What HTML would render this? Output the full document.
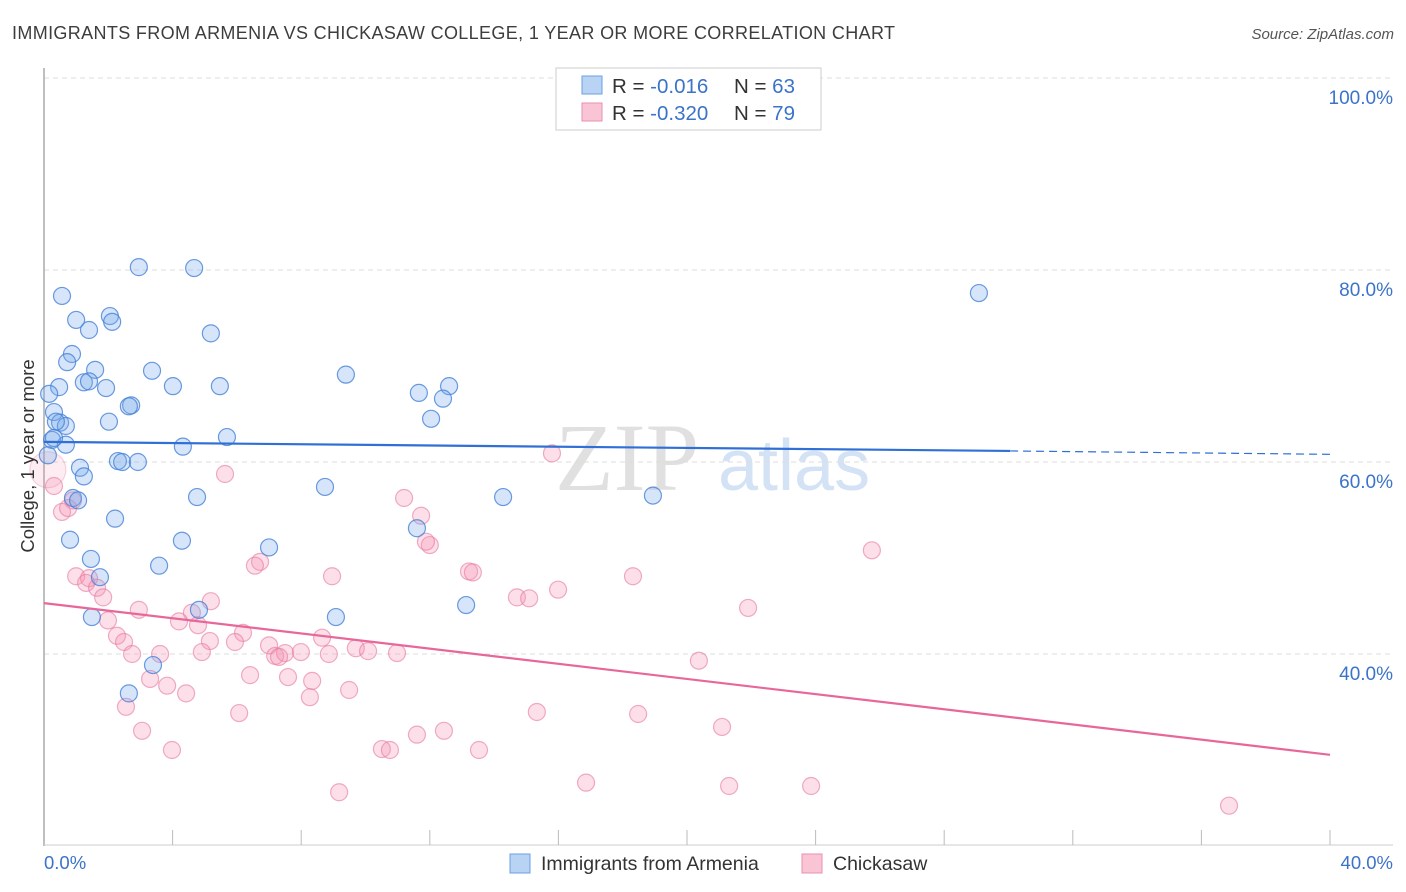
<!DOCTYPE html>
<html><head><meta charset="utf-8"><style>
body{margin:0;background:#fff;font-family:"Liberation Sans",sans-serif;}
svg{display:block}
</style></head><body>
<svg id="chart" width="1406" height="892">
<text x="12" y="39" font-size="18" fill="#3d3d3d" textLength="883">IMMIGRANTS FROM ARMENIA VS CHICKASAW COLLEGE, 1 YEAR OR MORE CORRELATION CHART</text>
<text x="1394" y="39" font-size="15" fill="#555" font-style="italic" text-anchor="end">Source: ZipAtlas.com</text>
<g>
<text x="555" y="490" font-size="96" font-family="Liberation Serif,serif" fill="#e0e0e0">ZIP</text>
<text x="718" y="490" font-size="72" fill="#d3e2f4">atlas</text>
</g>
<g id="grid"></g>
<line x1="44" y1="68" x2="44" y2="846" stroke="#aaa" stroke-width="1.5"/>
<line x1="44" y1="845" x2="1393" y2="845" stroke="#ccc"/>
<g id="ticks"></g>
<g id="pts"></g>
<g id="trend"></g>
<text x="34" y="456" font-size="18.5" fill="#333" text-anchor="middle" transform="rotate(-90 34 456)">College, 1 year or more</text>
<text x="44" y="869" font-size="18.5" fill="#3b73c9">0.0%</text>
<text x="1393" y="869" font-size="18.5" fill="#3b73c9" text-anchor="end">40.0%</text>
<g>
<rect x="556" y="68" width="265" height="62" fill="#fff" stroke="#ccc"/>
<rect x="582" y="76" width="20" height="18" fill="#b9d3f5" stroke="#6a9fe0"/>
<rect x="582" y="103" width="20" height="18" fill="#f9c5d5" stroke="#e890b0"/>
<text x="612" y="93" font-size="20.5" fill="#333">R = <tspan fill="#3b73c9">-0.016</tspan><tspan x="734">N = </tspan><tspan fill="#3b73c9">63</tspan></text>
<text x="612" y="120" font-size="20.5" fill="#333">R = <tspan fill="#3b73c9">-0.320</tspan><tspan x="734">N = </tspan><tspan fill="#3b73c9">79</tspan></text>
</g>
<g>
<rect x="510" y="854" width="20" height="19" fill="#b9d3f5" stroke="#6a9fe0"/>
<text x="541" y="870" font-size="19.5" fill="#333">Immigrants from Armenia</text>
<rect x="802" y="854" width="20" height="19" fill="#f9c5d5" stroke="#e890b0"/>
<text x="833" y="870" font-size="19.5" fill="#333">Chickasaw</text>
</g>
</svg>
<script>
const blueX=[2.95,4.67,0.56,29.08,1.0,2.05,2.12,1.40,5.19,0.87,0.72,1.59,3.36,9.39,1.24,1.40,1.93,4.01,5.47,0.47,0.16,11.66,12.6,12.41,2.71,2.64,0.31,12.04,2.02,0.5,0.68,0.37,5.69,4.32,0.25,0.68,0.31,0.12,2.30,2.43,2.92,1.12,1.24,8.74,4.76,14.28,18.94,0.9,1.06,2.21,11.6,0.81,4.29,7.0,1.46,3.58,1.74,13.13,4.82,1.49,9.08,3.39,2.64];
const blueY=[80.3,80.2,77.3,77.6,74.8,75.2,74.6,73.75,73.4,71.25,70.4,69.6,69.5,69.1,68.3,68.4,67.7,67.9,67.9,67.8,67.1,67.2,67.9,66.6,65.9,65.8,65.2,64.5,64.2,64.1,63.75,64.2,62.6,61.6,62.3,61.8,62.5,60.7,60.1,60.0,60.0,59.4,58.5,57.4,56.35,56.35,56.5,56.25,56.0,54.1,53.1,51.9,51.8,51.1,49.9,49.2,48.0,45.1,44.6,43.85,43.85,38.85,35.9];
const pinkX=[15.8,5.63,0.31,11.2,0.9,11.73,0.56,0.75,12.0,11.88,25.75,6.72,6.56,13.22,13.34,1.0,8.96,18.32,1.4,1.31,1.65,1.84,15.99,14.71,15.09,5.19,21.9,2.95,4.6,4.2,1.99,4.79,6.19,2.27,2.49,5.94,5.16,8.65,7.0,9.7,10.08,2.74,3.61,4.91,7.19,7.5,7.99,8.86,10.98,7.31,20.37,3.3,7.59,8.34,3.83,9.49,4.42,6.41,2.55,6.07,8.27,15.33,18.48,3.05,3.98,10.51,10.76,11.6,12.44,13.53,21.09,16.86,21.31,23.86,9.18,36.86,0.12];
const pinkY=[60.9,58.75,57.5,56.25,56.0,54.4,54.8,55.2,51.35,51.7,50.8,49.6,49.2,48.6,48.5,48.1,48.1,48.1,47.9,47.4,46.9,45.9,46.7,45.9,45.8,45.5,44.8,44.6,44.3,43.4,43.5,43.0,42.2,41.9,41.25,41.25,41.35,41.7,40.9,40.6,40.3,40.0,40.0,40.2,39.8,40.1,40.2,40.0,40.1,39.7,39.3,37.4,37.6,37.2,36.7,36.25,35.9,37.8,34.5,33.85,35.5,33.96,33.75,32.0,30.0,30.1,30.0,31.6,32.0,30.0,32.4,26.6,26.25,26.25,25.6,24.2,59.2];
const blueTrendX=[0,30.05,40];
const blueTrendY=[62.1,61.15,60.8];
const pinkTrendX=[0,40];
const pinkTrendY=[45.3,29.5];
const yTicks=[100,80,60,40];
const yTickLabels=["100.0%","80.0%","60.0%","40.0%"];
const xTicks=[4,8,12,16,20,24,28,32,36,40];

const NS="http://www.w3.org/2000/svg";
const sx=v=>44+v*32.15;
const sy=v=>1038-v*9.6;
function mk(tag,attrs,parent){const e=document.createElementNS(NS,tag);for(const k in attrs)e.setAttribute(k,attrs[k]);parent.appendChild(e);return e;}
const grid=document.getElementById('grid');
yTicks.forEach((t,i)=>{
  const l=mk('line',{x1:44,x2:1393,y1:sy(t),y2:sy(t),stroke:'#ddd','stroke-dasharray':'5,4'},grid);
  
  
  const tx=mk('text',{x:1393,y:sy(t)+26,'font-size':19,fill:'#3b73c9','text-anchor':'end'},grid);
  tx.textContent=yTickLabels[i];
  
  
});
const ticks=document.getElementById('ticks');
xTicks.forEach(t=>{
  const l=mk('line',{x1:sx(t),x2:sx(t),y1:830,y2:845,stroke:'#bbb'},ticks);
  
  
});
const pts=document.getElementById('pts');
pinkX.forEach((x,i)=>{
  const big=i===pinkX.length-1;
  const c=mk('circle',{cx:sx(x),cy:sy(pinkY[i]),r:big?18:8.5,fill:big?'rgba(244,150,180,0.18)':'rgba(244,150,180,0.3)',stroke:big?'rgba(230,120,160,0.3)':'rgba(230,120,160,0.6)','stroke-width':1.2},pts);
  
  
});
blueX.forEach((x,i)=>{
  const c=mk('circle',{cx:sx(x),cy:sy(blueY[i]),r:8.5,fill:'rgba(120,170,235,0.3)',stroke:'rgba(70,130,215,0.8)','stroke-width':1.2},pts);
  
  
});
const tr=document.getElementById('trend');
const b1=mk('line',{x1:sx(blueTrendX[0]),y1:sy(blueTrendY[0]),x2:sx(blueTrendX[1]),y2:sy(blueTrendY[1]),stroke:'#2f6fd6','stroke-width':2.2},tr);


const b2=mk('line',{x1:sx(blueTrendX[1]),y1:sy(blueTrendY[1]),x2:sx(blueTrendX[2]),y2:sy(blueTrendY[2]),stroke:'#2f6fd6','stroke-width':1.2,'stroke-dasharray':'8,5'},tr);


const p1=mk('line',{x1:sx(pinkTrendX[0]),y1:sy(pinkTrendY[0]),x2:sx(pinkTrendX[1]),y2:sy(pinkTrendY[1]),stroke:'#e8679a','stroke-width':2.2},tr);


</script>
</body></html>
